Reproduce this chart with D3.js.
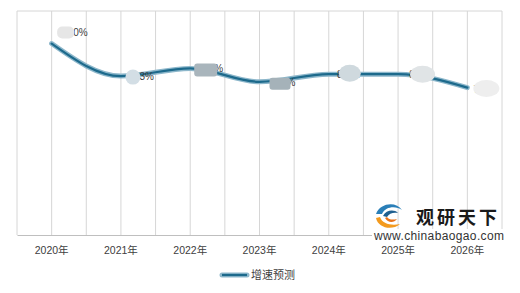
<!DOCTYPE html>
<html>
<head>
<meta charset="utf-8">
<script src="https://cdn.jsdelivr.net/npm/d3@7"></script>
<style>
  body { margin: 0; background: #fff; }
  text { font-family: "Liberation Sans", "Noto Sans CJK SC", sans-serif; }
</style>
</head>
<body>
<div id="chart"></div>
<script>
// data
const years = ['2020年', '2021年', '2022年', '2023年', '2024年', '2025年', '2026年'];
const growth = [10.0, 8.3, 8.7, 8.0, 8.4, 8.4, 7.7];
const labels = ['10.0%', '8.3%', '8.7%', '8.0%', '8.4%', '8.4%', '7.7%'];
const seriesName = '增速预测';

const width = 520;
const height = 293;
const margin = { top: 11, right: 18, bottom: 58, left: 17 };

const svg = d3.select('#chart').append('svg')
  .attr('width', width)
  .attr('height', height);

const x = d3.scaleBand()
  .domain(years)
  .range([margin.left, width - margin.right])
  .paddingInner(0).paddingOuter(0);
const y = d3.scaleLinear()
  .domain([0, 11.7])
  .range([height - margin.bottom, margin.top]);

const bw = x.bandwidth();
const cx = d => x(d) + bw / 2;

// grid: band edges and centres
const gridX = [];
years.forEach(d => { gridX.push(x(d)); gridX.push(cx(d)); });
gridX.push(x.range()[1]);

svg.append('g').selectAll('line')
  .data(gridX)
  .enter().append('line')
  .attr('x1', d => d).attr('x2', d => d)
  .attr('y1', y.range()[1]).attr('y2', y.range()[0])
  .attr('stroke', '#d6d6d6');

svg.append('line')
  .attr('x1', x.range()[0]).attr('x2', x.range()[1])
  .attr('y1', y.range()[1]).attr('y2', y.range()[1])
  .attr('stroke', '#d6d6d6');

// x axis
const xAxis = svg.append('g')
  .attr('transform', `translate(0,${y(0)})`)
  .call(d3.axisBottom(x).tickSize(0).tickPadding(12));
xAxis.select('.domain').attr('stroke', '#bfbfbf');
xAxis.selectAll('text')
  .attr('font-size', 10.5)
  .attr('fill', '#404040');

// line
const line = d3.line()
  .x((d, i) => cx(years[i]))
  .y(d => y(d))
  .curve(d3.curveMonotoneX);

svg.append('path')
  .datum(growth)
  .attr('d', line)
  .attr('fill', 'none')
  .attr('stroke', '#8db7cb')
  .attr('stroke-width', 5)
  .attr('stroke-linecap', 'round');
svg.append('path')
  .datum(growth)
  .attr('d', line)
  .attr('fill', 'none')
  .attr('stroke', '#1d6a8c')
  .attr('stroke-width', 2.2)
  .attr('stroke-linecap', 'round');

// data labels, partly hidden behind pale shapes as in the original
const labelLayout = [
  { tx: 36, ty: -8, shape: 'half', bx: 14, by: -17, w: 17, h: 12, fill: '#e6e6e6' },
  { tx: 33, ty: 4, shape: 'ellipse', bx: 12, by: 1, w: 15, h: 15, fill: '#d3dee5' },
  { tx: 33, ty: 4, shape: 'rect', bx: 4, by: -5, w: 23, h: 13, fill: '#a9b5bc' },
  { tx: 36, ty: 4, shape: 'rect', bx: 10, by: -4, w: 21, h: 12, fill: '#a5b2b9' },
  { tx: 31, ty: 4, shape: 'ellipse', bx: 21, by: -1, w: 22, h: 17, fill: '#cfd9de' },
  { tx: 34, ty: 4, shape: 'ellipse', bx: 24.5, by: 0, w: 25, h: 17, fill: '#e0e4e6' },
  { tx: 29, ty: 5, shape: 'ellipse', bx: 19, by: 1, w: 26, h: 17, fill: '#eeeeee' }
];

const lab = svg.append('g').selectAll('g')
  .data(growth)
  .enter().append('g')
  .attr('transform', (d, i) => `translate(${cx(years[i])},${y(d)})`);

lab.append('text')
  .attr('x', (d, i) => labelLayout[i].tx)
  .attr('y', (d, i) => labelLayout[i].ty)
  .attr('text-anchor', 'end')
  .attr('font-size', 10)
  .attr('fill', '#404040')
  .text((d, i) => labels[i]);

lab.each(function (d, i) {
  const L = labelLayout[i];
  const g = d3.select(this);
  if (L.shape === 'ellipse') {
    g.append('ellipse')
      .attr('cx', L.bx).attr('cy', L.by)
      .attr('rx', L.w / 2).attr('ry', L.h / 2)
      .attr('fill', L.fill);
  } else if (L.shape === 'rect') {
    g.append('rect')
      .attr('x', L.bx).attr('y', L.by)
      .attr('width', L.w).attr('height', L.h)
      .attr('rx', 3)
      .attr('fill', L.fill);
  } else {
    g.append('rect')
      .attr('x', L.bx - L.w / 2).attr('y', L.by)
      .attr('width', L.w).attr('height', L.h)
      .attr('rx', 5)
      .attr('fill', L.fill);
  }
});

// legend
const legend = svg.append('g').attr('transform', 'translate(222,275)');
legend.append('line')
  .attr('x1', 0).attr('x2', 25)
  .attr('stroke', '#8db7cb').attr('stroke-width', 5).attr('stroke-linecap', 'round');
legend.append('line')
  .attr('x1', 0).attr('x2', 25)
  .attr('stroke', '#1d6a8c').attr('stroke-width', 2.2);
legend.append('text')
  .attr('x', 29).attr('y', 4)
  .attr('font-size', 11)
  .attr('fill', '#404040')
  .text(seriesName);

// watermark
const wm = svg.append('g');
wm.append('rect')
  .attr('x', 372).attr('y', 229).attr('width', 134).attr('height', 13)
  .attr('fill', '#fff');
wm.append('path')
  .attr('d', 'M376,214 C380,203 396,201 402,210 C396,206 386,206 382,214 Z')
  .attr('fill', '#2a7fb8');
wm.append('path')
  .attr('d', 'M383,216 C386,210 394,209 398,213 C394,212 389,213 387,217 Z')
  .attr('fill', '#1f5f8f');
wm.append('path')
  .attr('d', 'M376,218 C378,228 392,231 400,224 C392,226 382,224 380,217 Z')
  .attr('fill', '#f39a1e');
wm.append('path')
  .attr('d', 'M385,218 C388,223 394,223 397,219 C393,220 389,220 387,217 Z')
  .attr('fill', '#e8731a');
wm.append('text')
  .attr('x', 416).attr('y', 224)
  .attr('font-size', 18)
  .attr('font-weight', 'bold')
  .attr('letter-spacing', 3)
  .attr('fill', '#1a1a1a')
  .text('观研天下');
wm.append('text')
  .attr('x', 374).attr('y', 240)
  .attr('font-size', 12)
  .attr('textLength', 130)
  .attr('fill', '#333')
  .text('www.chinabaogao.com');
</script>
</body>
</html>
